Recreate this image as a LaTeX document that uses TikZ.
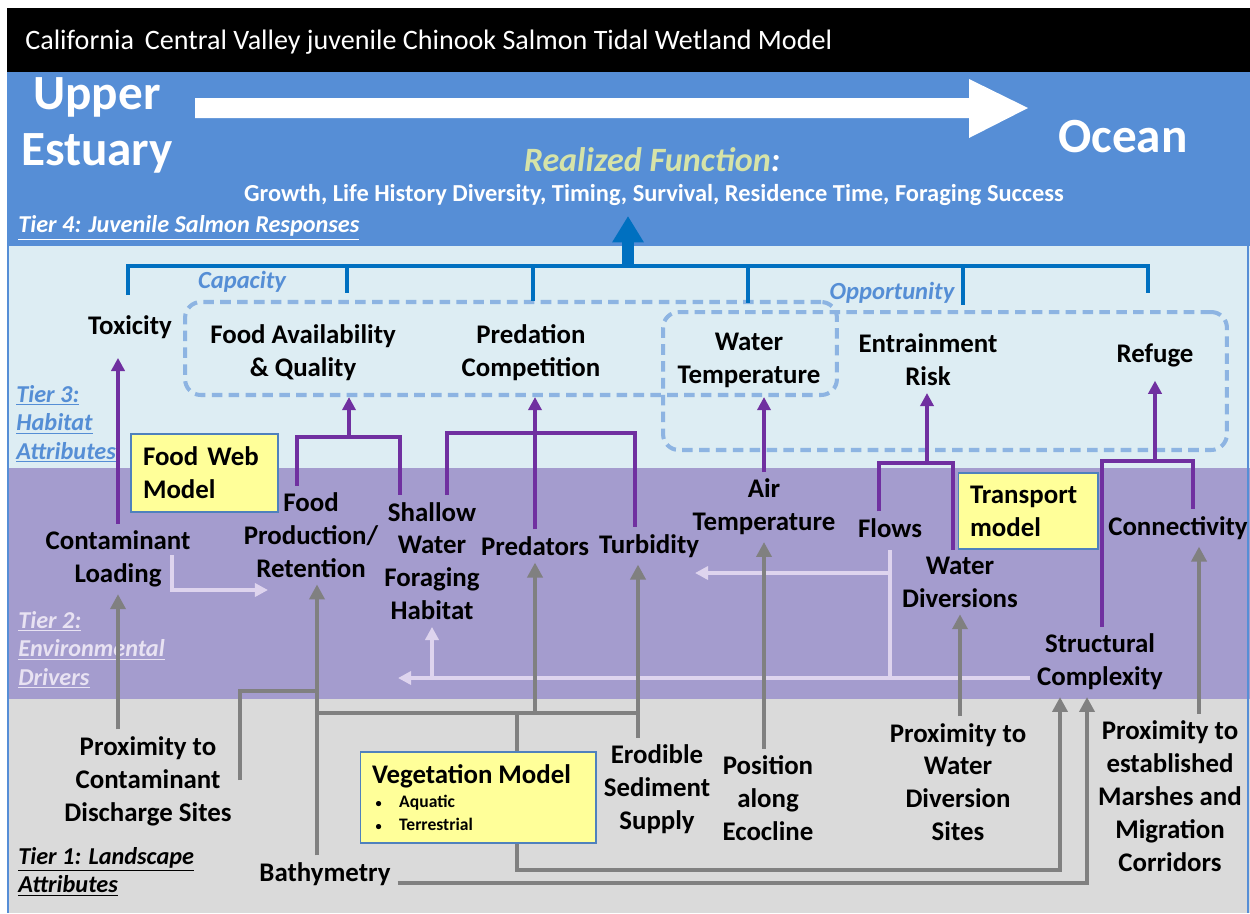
\documentclass[tikz,border=0pt]{standalone}
\usepackage{fontspec}
\setmainfont{Carlito}
\usetikzlibrary{arrows.meta}

\definecolor{bandblue}{RGB}{86,142,214}
\definecolor{bandthree}{RGB}{221,237,243}
\definecolor{bandtwo}{RGB}{164,156,206}
\definecolor{bandone}{RGB}{218,218,218}
\definecolor{treeblue}{RGB}{0,112,192}
\definecolor{dashblue}{RGB}{141,180,226}
\definecolor{purpcol}{RGB}{112,48,160}
\definecolor{graycol}{RGB}{128,128,128}
\definecolor{palecol}{RGB}{222,212,238}
\definecolor{boxfill}{RGB}{255,255,153}
\definecolor{boxedge}{RGB}{79,129,189}
\definecolor{realized}{RGB}{214,227,168}
\definecolor{tierthree}{RGB}{85,142,213}
\definecolor{tiertwo}{RGB}{232,226,242}

\newcommand\vegbullet{\hspace*{2pt}{\fontsize{7}{7}\selectfont\textbullet}\hspace{10pt}}

\tikzset{
  lbl/.style={font=\bfseries\fontsize{15.3}{18.7}\selectfont, align=center, inner sep=0pt, outer sep=4pt},
  tier/.style={font=\bfseries\itshape\fontsize{13.8}{16.2}\selectfont, align=left, anchor=west, inner sep=0pt},
  modelbox/.style={draw=boxedge, fill=boxfill, line width=0.6pt, align=left, inner xsep=0.24cm,
    font=\bfseries\fontsize{15.3}{18.7}\selectfont},
  dashbox/.style={draw=dashblue, line width=2.3pt, dash pattern=on 6pt off 3.6pt, rounded corners=9pt},
  prp/.style={draw=purpcol, line width=2.3pt},
  prparrow/.style={prp, -{Triangle[length=7.5pt,width=7.5pt]}},
  gry/.style={draw=graycol, line width=2.8pt},
  gryarrow/.style={gry, -{Triangle[length=8.5pt,width=8.5pt]}},
  pal/.style={draw=palecol, line width=2.3pt},
  palarrow/.style={pal, -{Triangle[length=7.5pt,width=7.5pt]}},
  tree/.style={draw=treeblue, line width=2.8pt},
}

\begin{document}
\begin{tikzpicture}[x=0.02cm,y=-0.02cm]
\useasboundingbox (0,0) rectangle (1250,913);

% bands
\fill[black] (7,8) rectangle (1250,72);
\fill[bandblue] (7,72) rectangle (1250,246);
\fill[bandthree] (7,246) rectangle (1250,468);
\fill[bandtwo] (7,468) rectangle (1250,699);
\fill[bandone] (7,699) rectangle (1250,913);
\draw[bandblue, line width=1.2pt] (8,72) -- (8,913) (1248,72) -- (1248,913);

% title and tier 4
\node[anchor=west, inner sep=0pt, text=white, font=\fontsize{16}{19}\selectfont] (title) at (25,42)
  {California\, Central Valley juvenile Chinook Salmon Tidal Wetland Model};
\fill[white] (195,98) -- (969,98) -- (969,79) -- (1028,108) -- (969,138) -- (969,118) -- (195,118) -- cycle;
\node[text=white, align=center, font=\bfseries\fontsize{28}{31.8}\selectfont] (upper) at (97,125) {Upper\\Estuary};
\node[text=white, font=\bfseries\fontsize{28}{31.8}\selectfont] (ocean) at (1123,137) {Ocean};
\node[font=\bfseries\itshape\fontsize{19.4}{22}\selectfont] (realized) at (652,160)
  {\textcolor{realized}{Realized Function}\textcolor{white}{:}};
\node[text=white, font=\bfseries\fontsize{13.9}{16}\selectfont] (growth) at (654,195)
  {Growth, Life History Diversity, Timing, Survival, Residence Time, Foraging Success};
\node[tier, text=white] (tfour) at (18,228) {\underline{Tier 4: Juvenile Salmon Responses}};

% tier 3
\node[dashbox, minimum width=13.04cm, minimum height=1.86cm] (capbox) at (511,348.5) {};
\node[dashbox, minimum width=11.28cm, minimum height=2.76cm] (oppbox) at (945,381) {};
\node[text=tierthree, font=\bfseries\itshape\fontsize{14}{16}\selectfont] (cap) at (242,282) {Capacity};
\node[text=tierthree, font=\bfseries\itshape\fontsize{14}{16}\selectfont] (opp) at (892,293) {Opportunity};
\node[lbl] (tox) at (130,327) {Toxicity};
\node[lbl] (fav) at (303,353) {Food Availability\\\& Quality};
\node[lbl] (pc) at (531,353) {Predation\\Competition};
\node[lbl] (wt) at (749,360) {Water\\Temperature};
\node[lbl] (er) at (928,360) {Entrainment\\Risk};
\node[lbl] (ref) at (1155,355) {Refuge};
\node[tier, text=tierthree] (tthree) at (16,424) {\underline{Tier 3:}\\\underline{Habitat}\\\underline{Attributes}};

% tier 2
\node[lbl] (cl) at (118,559) {Contaminant\\Loading};
\node[lbl] (fp) at (311,535) {Food\\Production/\\Retention};
\node[lbl] (sw) at (432,561) {Shallow\\Water\\Foraging\\Habitat};
\node[lbl] (pred) at (535,546) {Predators};
\node[lbl] (turb) at (649,546) {Turbidity};
\node[lbl] (air) at (764,507) {Air\\Temperature};
\node[lbl] (flows) at (890,528) {Flows};
\node[lbl] (conn) at (1178,528) {Connectivity};
\node[lbl] (wd) at (960,582) {Water\\Diversions};
\node[lbl] (sc) at (1100,662) {Structural\\Complexity};
\node[tier, text=tiertwo] (ttwo) at (18,650) {\underline{Tier 2:}\\\underline{Environmental}\\\underline{Drivers}};

% tier 1
\node[lbl] (pcd) at (148,781) {Proximity to\\Contaminant\\Discharge Sites};
\node[lbl] (bathy) at (325,874) {Bathymetry};
\node[lbl] (ess) at (657,789) {Erodible\\Sediment\\Supply};
\node[lbl] (pae) at (768,798) {Position\\along\\Ecocline};
\node[lbl] (pwd) at (958,782) {Proximity to\\Water\\Diversion\\Sites};
\node[lbl] (pem) at (1170,796) {Proximity to\\established\\Marshes and\\Migration\\Corridors};
\node[tier] (tone) at (18,872) {\underline{Tier 1: Landscape}\\\underline{Attributes}};

% bends and columns
\coordinate (hub) at (628,266);
\coordinate (xf) at (317,0);
\coordinate (xt) at (638,0);
\coordinate (xc) at (1199,0);
\coordinate (bj) at (317,713);
\coordinate (pk) at (317,691);
\coordinate (pj) at (240,780);
\coordinate (vj) at (517,713);
\coordinate (vb) at (1060,870);
\coordinate (bb) at (1087,883);
\coordinate (fa) at (297,437);
\coordinate (fb) at (400,437);
\coordinate (fm) at (349,437);
\coordinate (pa) at (447,433);
\coordinate (pb) at (635,433);
\coordinate (ea) at (879,463);
\coordinate (eb) at (953,463);
\coordinate (em) at (927,463);
\coordinate (ra) at (1102,461);
\coordinate (rb) at (1193,461);
\coordinate (rm) at (1155,461);
\coordinate (la) at (172,555);
\coordinate (lb) at (268,590);
\coordinate (lc) at (398,678);
\coordinate (ld) at (695,573);

% tier 4 tree
\draw[tree] (128,295) |- (1148,266) -- (1148,293);
\foreach \x/\y in {347/293,533/301,748/303,963/305}
  \draw[tree] (\x,266) -- (\x,\y);
\draw[tree, line width=6.5pt, -{Triangle[length=15pt,width=17pt]}] (hub) -- (628,216);

% pale links
\draw[palarrow] (la) |- (lb);
\draw[palarrow] (sc.west |- lc) -- (lc);
\draw[palarrow] (sw.south |- lc) -- (sw.south);
\draw[pal] ([yshift=-3pt]flows.south) -- (flows |- lc);
\draw[palarrow] (flows |- ld) -- (ld);

% tier 2 to tier 3
\draw[prparrow, shorten >=7pt] (cl.north) -- (tox.south -| cl);
\draw[prp] (fp.north -| fa) -- (fa) -- (fb) -- (sw.north -| fb);
\draw[prparrow] (fm) -- (capbox.south -| fm);
\draw[prp] (sw.north -| pa) -- (pa) -- (pb) -- (turb.north -| pb);
\draw[prparrow] (pred.north) -- (capbox.south -| pred);
\draw[prparrow] (air.north) -- (capbox.south -| air);
\draw[prp] (flows.north -| ea) -- (ea) -- (eb) -- (wd.north -| eb);
\draw[prparrow] (em) -- (er.south -| em);
\draw[prp] (sc.north -| ra) -- (ra) -- (rb) -- (conn.north -| rb);
\draw[prparrow, shorten >=4pt] (rm) -- (ref.south);

% tier 1 to tier 2
\draw[gryarrow] (pcd.north -| cl) -- (cl.south);
\draw[gry] (pj) |- (pk);
\draw[gryarrow] (bathy.north -| xf) -- (fp.south -| xf);
\draw[gry] (bj) -- (bj -| xt);
\draw[gryarrow] (bj -| pred) -- (pred.south);
\draw[gryarrow] (ess.north -| xt) -- (turb.south -| xt);
\draw[gryarrow] (vj) |- (vb) -- (sc.south -| vb);
\draw[gryarrow] (bathy.east |- bb) -| (sc.south -| bb);
\draw[gryarrow] (pae.north -| air) -- (air.south);
\draw[gryarrow] (pwd.north -| wd) -- (wd.south);
\draw[gryarrow] (pem.north -| xc) -- (conn.south -| xc);

% model boxes
\node[modelbox, text width=2.46cm, minimum height=1.56cm] (fwm) at (204.5,473) {Food Web\\Model};
\node[modelbox, text width=2.32cm, minimum height=1.52cm] (tpm) at (1028,511) {Transport\\model};
\node[modelbox, text width=4.24cm, minimum height=1.82cm, font=\bfseries\fontsize{10}{13}\selectfont] (veg) at (478,797.5)
  {{\fontsize{15.3}{15}\selectfont Vegetation Model}\\[1pt]
   \vegbullet Aquatic\\
   \vegbullet Terrestrial};
\end{tikzpicture}
\end{document}
